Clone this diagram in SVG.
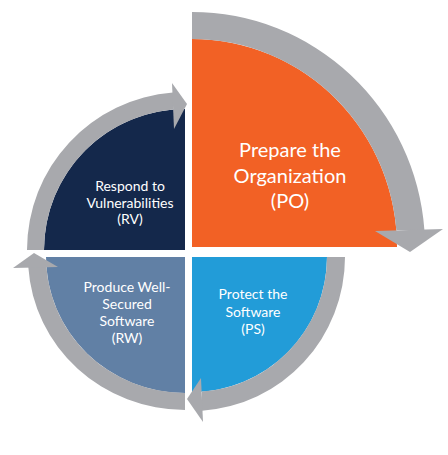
<svg xmlns="http://www.w3.org/2000/svg" width="448" height="455" viewBox="0 0 448 455">
<style>
.ring{fill:#A8A9AD}
.lbl{fill:#ffffff;font-family:Lato,"Open Sans",sans-serif;text-anchor:middle}
.big{font-size:20px}
.sm{font-size:14px}
</style>
<rect width="448" height="455" fill="#ffffff"/>
<g id="node-po">
<path d="M192,247 L192,39 A205,208 0 0 1 397,247 Z" fill="#F26125"/>
<text class="lbl big" x="290" y="157">Prepare the</text>
<text class="lbl big" x="290" y="183">Organization</text>
<text class="lbl big" x="290" y="208">(PO)</text>
</g>
<g id="node-rv">
<path d="M185,250 L44,250 A141,141 0 0 1 185,109 Z" fill="#14284B"/>
<text class="lbl sm" x="130" y="191">Respond to</text>
<text class="lbl sm" x="130" y="207.5">Vulnerabilities</text>
<text class="lbl sm" x="130" y="224">(RV)</text>
</g>
<g id="node-rw">
<path d="M185,257 L185,393 A139,136 0 0 1 46,257 Z" fill="#6180A5"/>
<text class="lbl sm" x="127" y="292">Produce Well-</text>
<text class="lbl sm" x="127" y="308.5">Secured</text>
<text class="lbl sm" x="127" y="325.5">Software</text>
<text class="lbl sm" x="127" y="342.5">(RW)</text>
</g>
<g id="node-ps">
<path d="M192,257 L327,257 A135,135 0 0 1 192,392 Z" fill="#229CD8"/>
<text class="lbl sm" x="253" y="299">Protect the</text>
<text class="lbl sm" x="253" y="316.5">Software</text>
<text class="lbl sm" x="253" y="333.5">(PS)</text>
</g>
<g id="connectors">
<path class="ring" d="M192,12 A233,235 0 0 1 424.4,230 L396.3,230 A205,208 0 0 0 192,39 Z"/>
<polygon class="ring" points="375,231 443,229 410,252"/>
<path class="ring" d="M27,250 A158,158 0 0 1 173,92.5 L173,109.5 A141,141 0 0 0 44,250 Z"/>
<polygon class="ring" points="172,83 187,104 174,129"/>
<path class="ring" d="M185,410 A157,153 0 0 1 28.3,267 L46.4,267 A139,136 0 0 0 185,393 Z"/>
<polygon class="ring" points="13,268 34,253 58,267"/>
<path class="ring" d="M345,257 A153,154 0 0 1 202,410.7 L202,391.6 A135,135 0 0 0 327,257 Z"/>
<polygon class="ring" points="201,378 187,399 203,422"/>
</g>
</svg>
